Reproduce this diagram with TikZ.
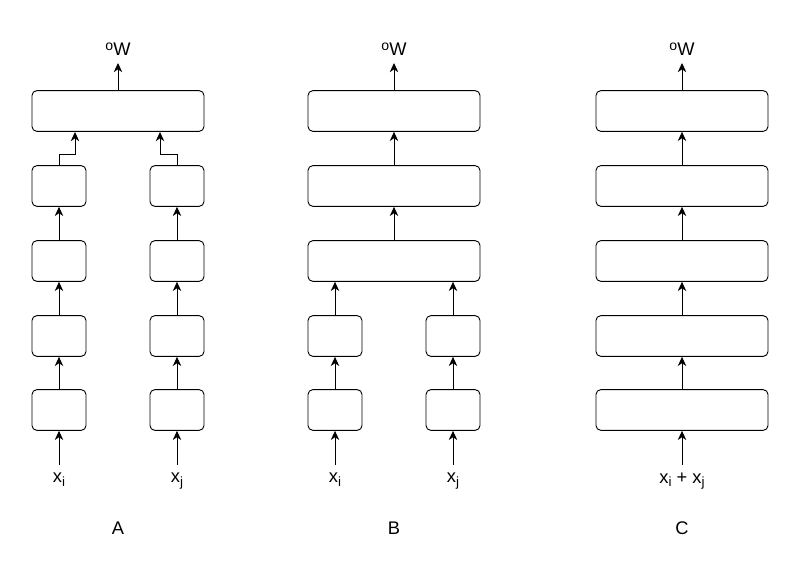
\documentclass[tikz,border=0pt]{standalone}
\usepackage{fontspec}
\setmainfont{Liberation Sans}
\usetikzlibrary{arrows.meta}
\newcommand{\lowtxt}[1]{\raisebox{-0.4ex}{\fontsize{9.5}{10}\selectfont #1}}
\newcommand{\hightxt}[1]{\raisebox{0.55ex}{\fontsize{10}{10}\selectfont #1}}

\begin{document}
\begin{tikzpicture}[x=0.025cm, y=-0.025cm, line width=0.65pt,
  sbox/.style={draw, rounded corners=3.5pt, minimum width=1.35cm, minimum height=1.02cm, inner sep=0pt},
  wbox/.style={sbox, minimum width=4.3cm},
  arr/.style={-{Stealth[length=6.5pt, width=6pt, inset=2pt]}},
  lbl/.style={inner xsep=0pt, inner ysep=5pt, font=\fontsize{13}{15}\selectfont}]
  \useasboundingbox (0,0) rectangle (800,571);

  % A: two separate columns, joined at the top
  \node[wbox] (atop) at (118,111) {};
  \node[sbox] (al4) at (59,186) {};
  \node[sbox] (al3) at (59,261) {};
  \node[sbox] (al2) at (59,336) {};
  \node[sbox] (al1) at (59,410) {};
  \node[sbox] (ar4) at (177,186) {};
  \node[sbox] (ar3) at (177,261) {};
  \node[sbox] (ar2) at (177,336) {};
  \node[sbox] (ar1) at (177,410) {};
  \node[lbl, anchor=south] (aout) at (118,63) {\hightxt{o}W};
  \node[lbl, anchor=north] (axi) at (59,465) {x\lowtxt{i}};
  \node[lbl, anchor=north] (axj) at (177,465) {x\lowtxt{j}};
  \node[lbl] (aname) at (118,528) {A};
  \coordinate (ainl) at (75,132);
  \coordinate (ainr) at (160,132);
  \draw[arr] (axi) -- (al1);
  \draw[arr] (al1) -- (al2);
  \draw[arr] (al2) -- (al3);
  \draw[arr] (al3) -- (al4);
  \draw[arr] (axj) -- (ar1);
  \draw[arr] (ar1) -- (ar2);
  \draw[arr] (ar2) -- (ar3);
  \draw[arr] (ar3) -- (ar4);
  \draw[arr] (al4.north) -- ++(0,-11) -| (ainl);
  \draw[arr] (ar4.north) -- ++(0,-11) -| (ainr);
  \draw[arr] (atop) -- (aout);

  % B: joined after two layers
  \node[wbox] (btop) at (394,111) {};
  \node[wbox] (b4) at (394,186) {};
  \node[wbox] (b3) at (394,261) {};
  \node[sbox] (bl2) at (335,336) {};
  \node[sbox] (bl1) at (335,410) {};
  \node[sbox] (br2) at (453,336) {};
  \node[sbox] (br1) at (453,410) {};
  \node[lbl, anchor=south] (bout) at (394,63) {\hightxt{o}W};
  \node[lbl, anchor=north] (bxi) at (335,465) {x\lowtxt{i}};
  \node[lbl, anchor=north] (bxj) at (453,465) {x\lowtxt{j}};
  \node[lbl] (bname) at (394,528) {B};
  \draw[arr] (bxi) -- (bl1);
  \draw[arr] (bl1) -- (bl2);
  \draw[arr] (bl2.north) -- (bl2.north |- b3.south);
  \draw[arr] (bxj) -- (br1);
  \draw[arr] (br1) -- (br2);
  \draw[arr] (br2.north) -- (br2.north |- b3.south);
  \draw[arr] (b3) -- (b4);
  \draw[arr] (b4) -- (btop);
  \draw[arr] (btop) -- (bout);

  % C: inputs summed first
  \node[wbox] (ctop) at (682,111) {};
  \node[wbox] (c4) at (682,186) {};
  \node[wbox] (c3) at (682,261) {};
  \node[wbox] (c2) at (682,336) {};
  \node[wbox] (c1) at (682,410) {};
  \node[lbl, anchor=south] (cout) at (682,63) {\hightxt{o}W};
  \node[lbl, anchor=north] (cx) at (682,465) {x\lowtxt{i} + x\lowtxt{j}};
  \node[lbl] (cname) at (682,528) {C};
  \draw[arr] (cx) -- (c1);
  \draw[arr] (c1) -- (c2);
  \draw[arr] (c2) -- (c3);
  \draw[arr] (c3) -- (c4);
  \draw[arr] (c4) -- (ctop);
  \draw[arr] (ctop) -- (cout);
\end{tikzpicture}
\end{document}
